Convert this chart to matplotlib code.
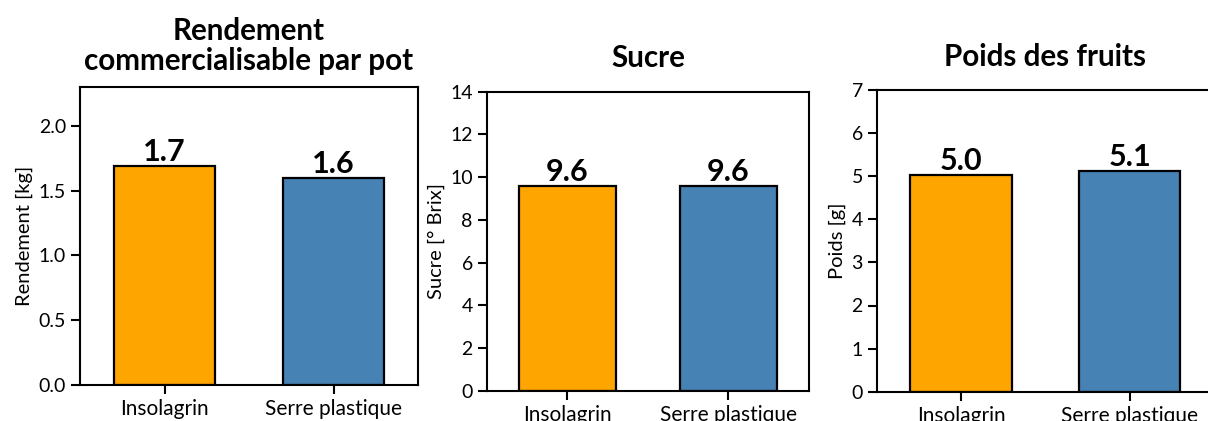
import matplotlib
matplotlib.use("Agg")
import matplotlib.pyplot as plt

plt.rcParams['font.family'] = ['Lato', 'DejaVu Sans']

categories = ["Insolagrin", "Serre plastique"]
rendement = [1.69, 1.60]
rendement_labels = ["1.7", "1.6"]
sucre = [9.6, 9.6]
sucre_labels = ["9.6", "9.6"]
poids = [5.02, 5.12]
poids_labels = ["5.0", "5.1"]

titles = ["Rendement\ncommercialisable par pot", "Sucre", "Poids des fruits"]
ylabels = ["Rendement [kg]", "Sucre [° Brix]", "Poids [g]"]
ylims = [2.3, 14, 7]
yticks = [[0.0, 0.5, 1.0, 1.5, 2.0], [0, 2, 4, 6, 8, 10, 12, 14], [0, 1, 2, 3, 4, 5, 6, 7]]
ytick_fmt = ["{:.1f}", "{:d}", "{:d}"]
colors = ["#FFA500", "#4682B4"]

fig = plt.figure(figsize=(12.08, 4.21), dpi=100)
W, H = 1208, 421
boxes = [(80, 87, 418, 385), (486.7, 91.7, 809, 391), (876.7, 90, 1214, 391.7)]
pads = [12.5, 17.5, 17.5]
data = [(rendement, rendement_labels), (sucre, sucre_labels), (poids, poids_labels)]

for i, (x0, y0, x1, y1) in enumerate(boxes):
    ax = fig.add_axes([x0 / W, 1 - y1 / H, (x1 - x0) / W, (y1 - y0) / H])
    vals, labs = data[i]
    bars = ax.bar(range(len(categories)), vals, width=0.6, color=colors,
                  edgecolor="black", linewidth=1.6)
    ax.bar_label(bars, labels=labs, padding=0, fontsize=22, fontweight="bold")
    ax.set_xlim(-0.5, 1.5)
    ax.set_ylim(0, ylims[i])
    ax.set_yticks(yticks[i])
    ax.set_yticklabels([ytick_fmt[i].format(v) for v in yticks[i]])
    ax.set_xticks(range(len(categories)))
    ax.set_xticklabels(categories)
    ax.tick_params(axis="both", labelsize=14, length=6.5, width=1.5, color="black")
    ax.tick_params(axis="x", labelsize=15)
    for s in ax.spines.values():
        s.set_linewidth(1.5)
    ax.set_ylabel(ylabels[i], fontsize=14.5)
    ax.set_title(titles[i], fontsize=21.3, fontweight="bold", pad=pads[i], linespacing=1.05)

fig.savefig("out.png", dpi=100)
